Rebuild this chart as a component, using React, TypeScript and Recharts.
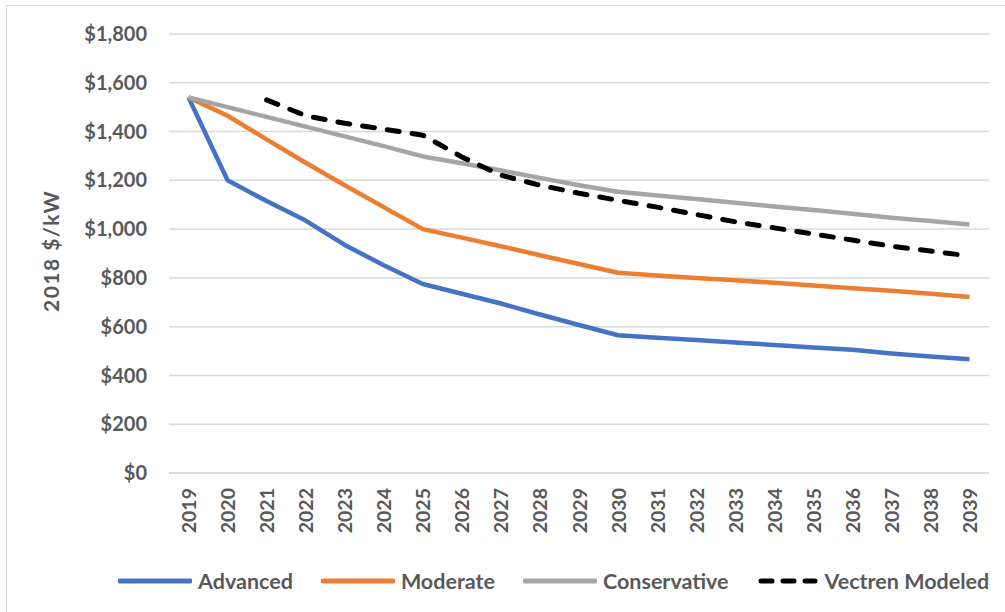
import React from 'react';
import { LineChart, Line, XAxis, YAxis, CartesianGrid } from 'recharts';

const years = [
  '2019', '2020', '2021', '2022', '2023', '2024', '2025', '2026', '2027', '2028', '2029',
  '2030', '2031', '2032', '2033', '2034', '2035', '2036', '2037', '2038', '2039',
];

const advanced = [1540, 1200, 1115, 1035, 935, 852, 775, 735, 695, 650, 607, 565, 555, 545, 535, 525, 515, 505, 490, 478, 466];
const moderate = [1540, 1465, 1368, 1272, 1180, 1090, 1000, 965, 930, 893, 857, 821, 810, 800, 790, 780, 769, 758, 747, 735, 722];
const conservative = [1540, 1500, 1460, 1420, 1380, 1340, 1298, 1270, 1240, 1210, 1180, 1153, 1138, 1123, 1108, 1093, 1078, 1063, 1047, 1033, 1019];
const vectren = [null, null, 1530, 1465, 1434, 1410, 1385, 1296, 1221, 1180, 1147, 1118, 1090, 1060, 1030, 1005, 980, 955, 930, 910, 890];

const yTicks = [0, 200, 400, 600, 800, 1000, 1200, 1400, 1600, 1800];

const series = [
  { key: 'advanced', name: 'Advanced', color: '#4472C4', dash: undefined },
  { key: 'moderate', name: 'Moderate', color: '#ED7D31', dash: undefined },
  { key: 'conservative', name: 'Conservative', color: '#A5A5A5', dash: undefined },
  { key: 'vectren', name: 'Vectren Modeled', color: '#000000', dash: '12 13' },
];

const data = years.map((year, i) => ({
  year,
  advanced: advanced[i],
  moderate: moderate[i],
  conservative: conservative[i],
  vectren: vectren[i],
}));

const FONT = 'Lato, "Open Sans", sans-serif';
const TEXT = '#595959';

// year labels run bottom-to-top below the axis
const YearTick = (props: any) => {
  const { x, payload } = props;
  const y = props.y + 10;
  return (
    <text
      x={x}
      y={y}
      transform={`rotate(-90 ${x} ${y})`}
      textAnchor="end"
      dominantBaseline="central"
      fill={TEXT}
      fontSize={19.5}
      fontWeight={700}
      fontFamily={FONT}
    >
      {payload.value}
    </text>
  );
};

const formatDollar = (v: number) => `$${v.toLocaleString('en-US')}`;

export default function App() {
  return (
    <div style={{ position: 'absolute', left: 0, top: 0, width: 1005, height: 612, background: '#fff', overflow: 'hidden' }}>
      <div
        style={{
          position: 'absolute',
          left: 6,
          top: 5,
          width: 1010,
          height: 620,
          borderTop: '1.5px solid #d9d9d9',
          borderLeft: '1.5px solid #d9d9d9',
        }}
      />
      <LineChart
        width={1005}
        height={612}
        data={data}
        margin={{ top: 34, right: 16, bottom: 0, left: 0 }}
        style={{ position: 'absolute', left: 0, top: 0 }}
      >
        <CartesianGrid vertical={false} stroke="#d9d9d9" strokeWidth={1.5} />
        <XAxis
          dataKey="year"
          interval={0}
          height={139}
          padding={{ left: 19.5, right: 19.5 }}
          tickLine={false}
          tickSize={0}
          tickMargin={5}
          axisLine={{ stroke: '#d9d9d9', strokeWidth: 1.5 }}
          tick={<YearTick />}
        />
        <YAxis
          domain={[0, 1800]}
          ticks={yTicks}
          width={169}
          axisLine={false}
          tickLine={false}
          tickSize={0}
          tickMargin={22}
          tickFormatter={formatDollar}
          tick={{ fill: TEXT, fontSize: 20, fontWeight: 700, fontFamily: FONT }}
          label={{
            content: () => (
              <text
                x={50}
                y={251}
                transform="rotate(-90 50 251)"
                textAnchor="middle"
                dominantBaseline="central"
                fill={TEXT}
                fontSize={21}
                fontWeight={700}
                fontFamily={FONT}
                letterSpacing={1.5}
              >
                2018 $/kW
              </text>
            ),
          }}
        />
        {series.map((s) => (
          <Line
            key={s.key}
            type="linear"
            dataKey={s.key}
            name={s.name}
            stroke={s.color}
            strokeWidth={s.dash ? 5 : 4.5}
            strokeDasharray={s.dash}
            strokeLinecap={s.dash ? 'round' : 'butt'}
            strokeLinejoin="round"
            dot={false}
            activeDot={false}
            isAnimationActive={false}
          />
        ))}
      </LineChart>
      <div
        style={{
          position: 'absolute',
          left: 118,
          top: 568,
          width: 'max-content',
          whiteSpace: 'nowrap',
          display: 'flex',
          alignItems: 'center',
          fontFamily: FONT,
          fontWeight: 700,
          fontSize: 21.5,
          color: TEXT,
        }}
      >
        {series.map((s) => (
          <div key={s.key} style={{ display: 'flex', alignItems: 'center', flexShrink: 0, marginRight: 28 }}>
            <svg width={s.dash ? 62 : 74} height={10} style={{ flexShrink: 0 }}>
              <line
                x1={s.dash ? 4 : 2}
                y1={5}
                x2={s.dash ? 58 : 72}
                y2={5}
                stroke={s.color}
                strokeWidth={5}
                strokeLinecap="round"
                strokeDasharray={s.dash ? '11 11' : undefined}
              />
            </svg>
            <span style={{ marginLeft: 6 }}>{s.name}</span>
          </div>
        ))}
      </div>
    </div>
  );
}
